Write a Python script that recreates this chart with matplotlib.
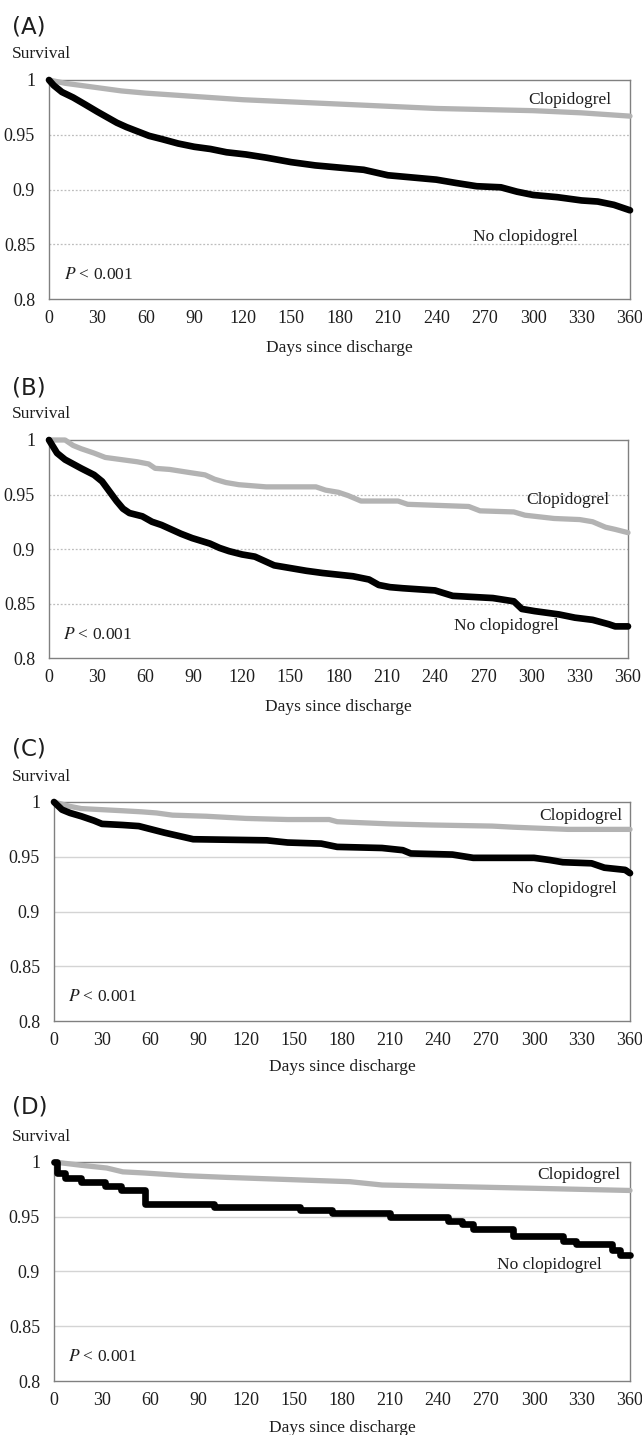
import matplotlib
matplotlib.use("Agg")
import matplotlib.pyplot as plt

# ---- data ----
xticks = [0, 30, 60, 90, 120, 150, 180, 210, 240, 270, 300, 330, 360]
yticks = [0.8, 0.85, 0.9, 0.95, 1.0]
ytick_labels = ["0.8", "0.85", "0.9", "0.95", "1"]
panel_labels = ["(A)", "(B)", "(C)", "(D)"]

# (A)
a_clop_days = [0, 10, 20, 30, 45, 60, 90, 120, 150, 180, 210, 240, 270, 300, 330, 360]
a_clop_surv = [1.0, 0.997, 0.995, 0.993, 0.990, 0.988, 0.985, 0.982, 0.980, 0.978,
               0.976, 0.974, 0.973, 0.972, 0.970, 0.967]
a_noclop_days = [0, 3, 8, 15, 22, 30, 36, 42, 48, 55, 62, 70, 80, 90, 100, 110, 122, 135,
                 150, 165, 180, 195, 210, 225, 240, 252, 265, 280, 290, 300, 315, 330,
                 340, 350, 360]
a_noclop_surv = [1.0, 0.995, 0.989, 0.984, 0.978, 0.971, 0.966, 0.961, 0.957, 0.953, 0.949,
                 0.946, 0.942, 0.939, 0.937, 0.934, 0.932, 0.929, 0.925, 0.922, 0.920,
                 0.918, 0.913, 0.911, 0.909, 0.906, 0.903, 0.902, 0.898, 0.895, 0.893,
                 0.890, 0.889, 0.886, 0.881]

# (B)
b_clop_days = [0, 10, 15, 20, 28, 35, 45, 55, 62, 66, 75, 88, 97, 103, 110, 118, 135, 166,
               172, 180, 186, 194, 217, 223, 261, 268, 289, 296, 314, 330, 338, 346, 352, 360]
b_clop_surv = [1.0, 1.0, 0.995, 0.992, 0.988, 0.984, 0.982, 0.980, 0.978, 0.974, 0.973,
               0.970, 0.968, 0.964, 0.961, 0.959, 0.957, 0.957, 0.954, 0.952, 0.949, 0.944,
               0.944, 0.941, 0.939, 0.935, 0.934, 0.931, 0.928, 0.927, 0.925, 0.920, 0.918,
               0.915]
b_noclop_days = [0, 5, 10, 20, 28, 33, 38, 42, 46, 50, 58, 64, 70, 76, 82, 89, 100, 106,
                 112, 120, 128, 134, 140, 148, 160, 170, 189, 199, 205, 212, 220, 240, 251,
                 276, 289, 294, 302, 317, 327, 338, 348, 352, 360]
b_noclop_surv = [1.0, 0.988, 0.982, 0.974, 0.968, 0.962, 0.952, 0.944, 0.937, 0.933, 0.930,
                 0.925, 0.922, 0.918, 0.914, 0.910, 0.905, 0.901, 0.898, 0.895, 0.893, 0.889,
                 0.885, 0.883, 0.880, 0.878, 0.875, 0.872, 0.867, 0.865, 0.864, 0.862, 0.857,
                 0.855, 0.852, 0.845, 0.843, 0.840, 0.837, 0.835, 0.831, 0.829, 0.829]

# (C)
c_clop_days = [0, 10, 17, 30, 43, 55, 64, 74, 95, 120, 146, 172, 177, 210, 236, 274, 287,
               321, 360]
c_clop_surv = [1.0, 0.996, 0.994, 0.993, 0.992, 0.991, 0.990, 0.988, 0.987, 0.985, 0.984,
               0.984, 0.982, 0.980, 0.979, 0.978, 0.977, 0.975, 0.975]
c_noclop_days = [0, 5, 10, 17, 25, 30, 43, 53, 61, 69, 78, 87, 133, 146, 167, 177, 205, 218,
                 223, 249, 262, 300, 310, 318, 336, 344, 357, 360]
c_noclop_surv = [1.0, 0.993, 0.990, 0.987, 0.983, 0.980, 0.979, 0.978, 0.975, 0.972, 0.969,
                 0.966, 0.965, 0.963, 0.962, 0.959, 0.958, 0.956, 0.953, 0.952, 0.949, 0.949,
                 0.947, 0.945, 0.944, 0.940, 0.938, 0.935]

# (D)
d_clop_days = [0, 17, 33, 43, 56, 82, 107, 146, 185, 205, 236, 300, 360]
d_clop_surv = [1.0, 0.997, 0.9945, 0.991, 0.990, 0.9875, 0.986, 0.984, 0.982, 0.979, 0.978,
               0.976, 0.974]
d_noclop_days = [0, 2, 7, 17, 32, 42, 57, 100, 154, 174, 210, 246, 255, 262, 287, 318, 326,
                 349, 354, 360]
d_noclop_surv = [1.0, 0.990, 0.985, 0.982, 0.978, 0.974, 0.962, 0.959, 0.956, 0.953, 0.950,
                 0.946, 0.943, 0.939, 0.932, 0.928, 0.925, 0.920, 0.915, 0.915]

clop_series = [(a_clop_days, a_clop_surv), (b_clop_days, b_clop_surv),
               (c_clop_days, c_clop_surv), (d_clop_days, d_clop_surv)]
noclop_series = [(a_noclop_days, a_noclop_surv), (b_noclop_days, b_noclop_surv),
                 (c_noclop_days, c_noclop_surv), (d_noclop_days, d_noclop_surv)]

# label positions in data coords: (clop x, clop y, noclop x, noclop y)
label_pos = [(297, 0.982, 263, 0.857),
             (297, 0.9445, 252, 0.829),
             (303, 0.987, 286, 0.921),
             (302, 0.988, 277, 0.906)]

# layout in pixels (fig 642 x 1435)
W, H = 642, 1435
axes_px = [(49, 80, 630, 299), (49, 440, 628, 658), (54, 802, 630, 1021), (54, 1162, 630, 1381)]
title_y = [27, 388, 749, 1107]
surv_y = [54, 414, 777, 1137]
xlabel_y = [348, 707, 1067, 1428]
dashed_grid = [True, True, False, False]

serif = "Liberation Serif"
txt = "#1e1e1e"
fig = plt.figure(figsize=(W / 100, H / 100), dpi=100)

for i in range(4):
    l, t, r, b = axes_px[i]
    ax = fig.add_axes([l / W, 1 - b / H, (r - l) / W, (b - t) / H])
    cd, cs = clop_series[i]
    nd, ns = noclop_series[i]
    ax.plot(cd, cs, color="#b3b3b3", lw=3.8, solid_capstyle="round", zorder=3, clip_on=False)
    if i == 3:
        ax.plot(nd, ns, color="black", lw=4.8, drawstyle="steps-post",
                solid_capstyle="round", zorder=4, clip_on=False)
    else:
        ax.plot(nd, ns, color="black", lw=4.8, solid_capstyle="round", zorder=4,
                clip_on=False)

    ax.set_xlim(0, 360)
    ax.set_ylim(0.8, 1.0)
    ax.set_xticks(xticks)
    ax.set_xticklabels([str(v) for v in xticks], family=serif, fontsize=13, color=txt)
    ax.set_yticks(yticks)
    ax.set_yticklabels(ytick_labels, family=serif, fontsize=13, color=txt)
    ax.tick_params(axis="x", length=0, pad=8)
    ax.tick_params(axis="y", length=0, pad=10)
    for sp in ax.spines.values():
        sp.set_color("#808080")
        sp.set_linewidth(1.0)
    for g in [0.85, 0.9, 0.95]:
        if dashed_grid[i]:
            ax.axhline(g, color="#bdbdbd", lw=0.9, ls=(0, (1.5, 1.5)), zorder=1)
        else:
            ax.axhline(g, color="#d4d4d4", lw=1.0, zorder=1)

    cx, cy, nx, ny = label_pos[i]
    ax.text(cx, cy, "Clopidogrel", family=serif, fontsize=12.5, va="center", ha="left",
            color=txt)
    ax.text(nx, ny, "No clopidogrel", family=serif, fontsize=12.5, va="center", ha="left",
            color=txt)
    ax.text(9, 0.8215, "$\\it{P}$ < 0.001", family=serif, fontsize=12.5, va="center",
            ha="left", math_fontfamily="stix", color=txt)

    fig.text(12 / W, 1 - title_y[i] / H, panel_labels[i], family="DejaVu Sans",
             fontsize=16.5, va="center", ha="left", color=txt)
    fig.text(12 / W, 1 - surv_y[i] / H, "Survival", family=serif, fontsize=12.5,
             va="center", ha="left", color=txt)
    fig.text((l + r) / 2 / W, 1 - xlabel_y[i] / H, "Days since discharge", family=serif,
             fontsize=12.5, va="center", ha="center", color=txt)

fig.savefig("out.png", dpi=100)
